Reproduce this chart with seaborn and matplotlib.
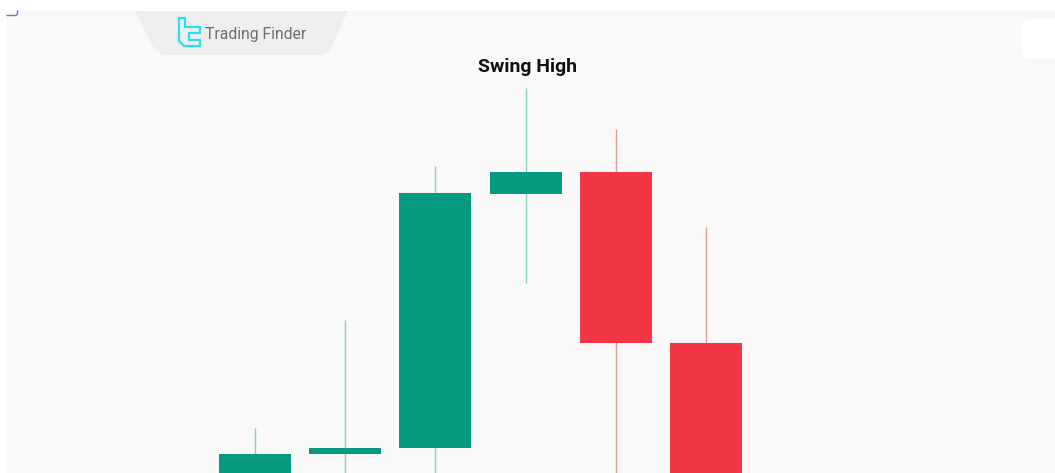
import matplotlib
matplotlib.use("Agg")
import matplotlib.pyplot as plt
from matplotlib.patches import Polygon, FancyBboxPatch, Rectangle
import seaborn as sns
import pandas as pd
import numpy as np

# Candles (price units, arbitrary scale)
candle = [0, 1, 2, 3, 4, 5]
open_ = [-10.0, 4.75, 6.25, 69.75, 75.25, 32.5]
close = [4.75, 6.25, 70.0, 75.25, 32.5, -20.0]
high = [11.25, 38.25, 76.75, 96.25, 86.0, 61.5]
low = [-15.0, -10.0, -5.0, 47.5, -5.0, -25.0]
title = "Swing High"
brand = "Trading Finder"

GREEN = "#089981"
RED = "#f23645"
GREEN_WICK = "#86d1bf"
RED_WICK = "#e59a9a"

df = pd.DataFrame({"candle": candle, "open": open_, "close": close,
                   "high": high, "low": low})
df["bottom"] = df[["open", "close"]].min(axis=1)
df["height"] = (df["close"] - df["open"]).abs()
df["up"] = df["close"] >= df["open"]

W, H = 1055, 473
fig = plt.figure(figsize=(W / 100, H / 100), dpi=100)
fig.patch.set_facecolor("white")

# background / decoration layer in pixel coordinates
bg = fig.add_axes([0, 0, 1, 1], zorder=0)
bg.set_xlim(0, W)
bg.set_ylim(H, 0)
bg.axis("off")
bg.add_patch(Rectangle((7, 11), W - 7, H - 11, facecolor="#f9f9f9", edgecolor="none"))
bg.add_patch(Polygon([(135, 11), (348, 11), (330, 50), (322, 55), (163, 55), (155, 50)],
                     closed=True, facecolor="#efefef", edgecolor="none"))
bg.plot([7, 16, 17.5, 17.5], [15.5, 15.5, 14, 11], color="#5b7fd6", lw=1.0)
bg.add_patch(FancyBboxPatch((1022, 19), 60, 40, boxstyle="round,pad=0,rounding_size=9",
                            facecolor="white", edgecolor="none"))
icon = [(179, 18), (185, 18), (185, 27), (200, 27), (200, 33), (189, 33), (189, 40),
        (200, 40), (200, 46), (184, 46), (179, 41)]
bg.add_patch(Polygon(icon, closed=True, facecolor="none", edgecolor="#27e3ee", lw=1.6))
bg.text(205, 35, brand, ha="left", va="center", fontsize=11.3, color="#6e6e6e",
        family="Roboto")
bg.text(528, 67, title, ha="center", va="center", fontsize=14, fontweight="bold",
        color="#111111", family="Roboto")

# candle layer
ax = fig.add_axes([0, 0, 1, 1], zorder=1)
ax.patch.set_alpha(0)
wick_colors = [GREEN_WICK if u else RED_WICK for u in df["up"]]
ax.vlines(df["candle"], df["low"], df["high"], colors=wick_colors, lw=1.0, zorder=1)
sns.barplot(data=df, x="candle", y="height", bottom=df["bottom"].values,
            native_scale=True, width=0.8, errorbar=None, color=GREEN,
            linewidth=0, ax=ax, zorder=2)
for patch, up in zip(ax.patches, df["up"]):
    patch.set_facecolor(GREEN if up else RED)

step = 90.2
ax.set_xlim(-255 / step, (W - 255) / step)
ax.set_ylim(0, H / 4)
ax.axis("off")

fig.savefig("out.png", dpi=100)
